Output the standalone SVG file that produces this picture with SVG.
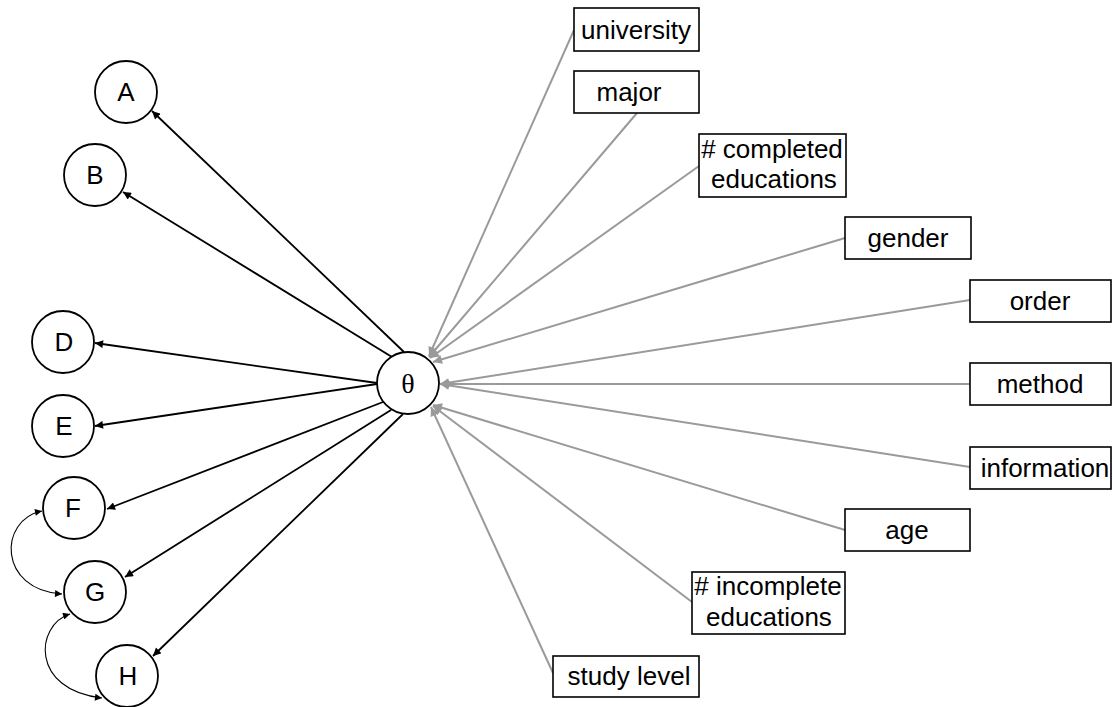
<svg xmlns="http://www.w3.org/2000/svg" width="1113" height="707" viewBox="0 0 1113 707">
<style>
.circ{fill:#fff;stroke:#000;stroke-width:1.8}
.box{fill:#fff;stroke:#000;stroke-width:1.6}
.lbl{font-family:"Liberation Sans",Arial,sans-serif;font-size:26px;fill:#000;text-anchor:middle}
.theta{font-family:"Liberation Serif","DejaVu Serif",serif;font-size:28px;fill:#000;text-anchor:middle}
.blk{stroke:#000;stroke-width:1.8;fill:none;marker-end:url(#ab)}
.gry{stroke:#9a9a9a;stroke-width:2;fill:none;marker-end:url(#ag)}
.crv{stroke:#000;stroke-width:1.1;fill:none;marker-start:url(#ac);marker-end:url(#ac)}
</style>
<defs>
<marker id="ab" viewBox="0 0 10 10" refX="10" refY="5" markerWidth="9" markerHeight="8" markerUnits="userSpaceOnUse" orient="auto"><path d="M0,0L10,5L0,10z" fill="#000"/></marker>
<marker id="ag" viewBox="0 0 10 10" refX="10" refY="5" markerWidth="11" markerHeight="9" markerUnits="userSpaceOnUse" orient="auto"><path d="M0,0L10,5L0,10z" fill="#9a9a9a"/></marker>
<marker id="ac" viewBox="0 0 10 10" refX="10" refY="5" markerWidth="8" markerHeight="7" markerUnits="userSpaceOnUse" orient="auto-start-reverse"><path d="M0,0L10,5L0,10z" fill="#000"/></marker>
</defs>
<rect width="1113" height="707" fill="#fff"/>
<g id="connectors">
<line class="blk" x1="404" y1="352" x2="152" y2="111"/>
<line class="blk" x1="392" y1="357" x2="123" y2="192"/>
<line class="blk" x1="377" y1="383" x2="95" y2="343"/>
<line class="blk" x1="377" y1="384" x2="95" y2="426"/>
<line class="blk" x1="383" y1="402" x2="107" y2="509"/>
<line class="blk" x1="391" y1="410" x2="125" y2="577"/>
<line class="blk" x1="403" y1="414" x2="153" y2="656"/>
<path class="crv" d="M42,511 C-2,520 -2,590 62,594"/>
<path class="crv" d="M70,614 C35,625 30,690 102,698"/>
<line class="gry" x1="574" y1="30" x2="429" y2="356"/>
<line class="gry" x1="637" y1="113" x2="429" y2="357"/>
<line class="gry" x1="699" y1="166" x2="430" y2="358"/>
<line class="gry" x1="845" y1="238" x2="433" y2="362"/>
<line class="gry" x1="970" y1="300" x2="440" y2="384"/>
<line class="gry" x1="970" y1="384" x2="440" y2="384"/>
<line class="gry" x1="970" y1="467" x2="440" y2="384"/>
<line class="gry" x1="845" y1="530" x2="433" y2="405"/>
<line class="gry" x1="692" y1="602" x2="433" y2="406"/>
<line class="gry" x1="553" y1="673" x2="431" y2="407"/>
</g>
<g id="node-A"><circle class="circ" cx="126" cy="92" r="31"/><text class="lbl" x="126" y="101">A</text></g>
<g id="node-B"><circle class="circ" cx="95" cy="175" r="31"/><text class="lbl" x="95" y="184">B</text></g>
<g id="node-D"><circle class="circ" cx="63" cy="342" r="31"/><text class="lbl" x="64" y="351">D</text></g>
<g id="node-E"><circle class="circ" cx="63" cy="426" r="31"/><text class="lbl" x="64" y="435">E</text></g>
<g id="node-F"><circle class="circ" cx="74" cy="508" r="31"/><text class="lbl" x="73" y="517">F</text></g>
<g id="node-G"><circle class="circ" cx="95" cy="592" r="31"/><text class="lbl" x="95" y="601">G</text></g>
<g id="node-H"><circle class="circ" cx="127" cy="676" r="31"/><text class="lbl" x="128" y="685">H</text></g>
<g id="node-theta"><circle class="circ" cx="408" cy="383" r="31"/><text class="theta" x="408" y="393">θ</text></g>
<g id="node-university"><rect class="box" x="574" y="8" width="125" height="43"/><text class="lbl" x="636" y="39">university</text></g>
<g id="node-major"><rect class="box" x="574" y="71" width="125" height="42"/><text class="lbl" x="629" y="101">major</text></g>
<g id="node-completed"><rect class="box" x="699" y="134" width="147" height="63"/><text class="lbl" x="772" y="158"># completed</text><text class="lbl" x="774" y="188">educations</text></g>
<g id="node-gender"><rect class="box" x="845" y="217" width="126" height="42"/><text class="lbl" x="908" y="247">gender</text></g>
<g id="node-order"><rect class="box" x="970" y="280" width="141" height="42"/><text class="lbl" x="1040" y="310">order</text></g>
<g id="node-method"><rect class="box" x="970" y="363" width="141" height="42"/><text class="lbl" x="1040" y="393">method</text></g>
<g id="node-information"><rect class="box" x="970" y="447" width="141" height="42"/><text class="lbl" x="1045" y="477">information</text></g>
<g id="node-age"><rect class="box" x="845" y="509" width="125" height="42"/><text class="lbl" x="907" y="539">age</text></g>
<g id="node-incomplete"><rect class="box" x="692" y="572" width="153" height="62"/><text class="lbl" x="768" y="595"># incomplete</text><text class="lbl" x="769" y="626">educations</text></g>
<g id="node-studylevel"><rect class="box" x="553" y="656" width="146" height="41"/><text class="lbl" x="629" y="685">study level</text></g>
</svg>
